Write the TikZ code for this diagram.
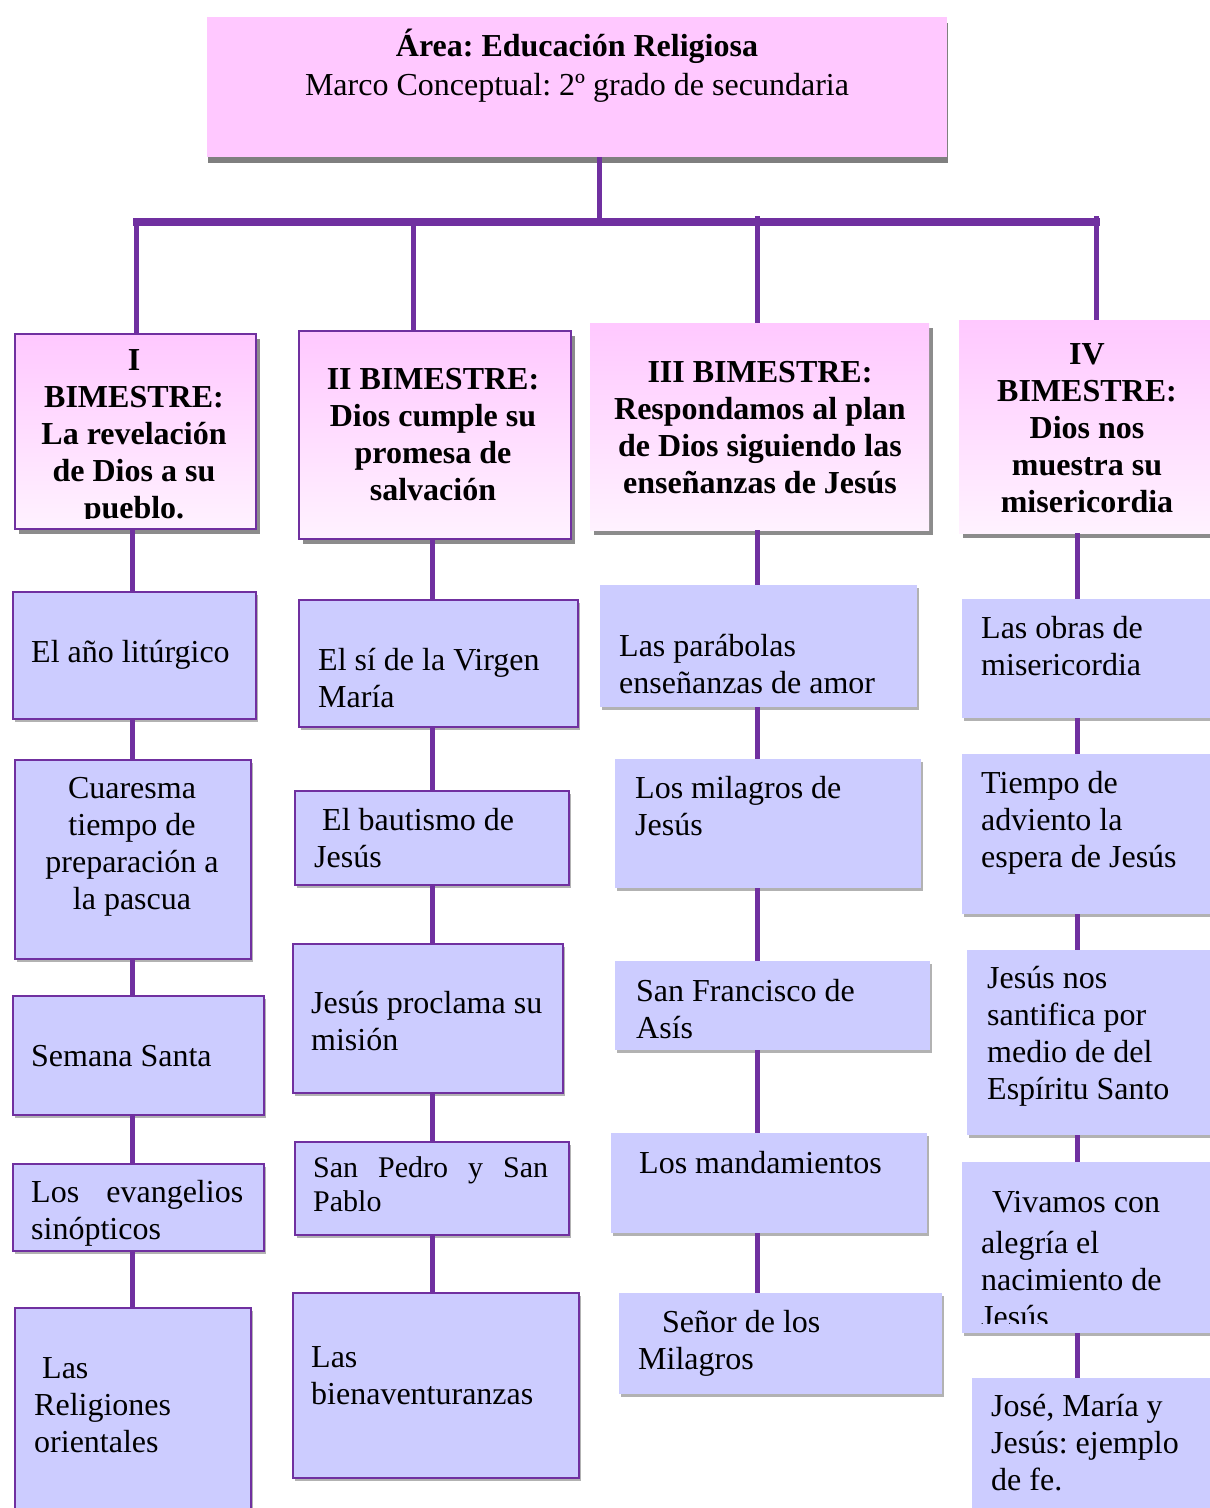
\documentclass[tikz,border=0pt]{standalone}
\usepackage{fontspec}
\setmainfont{Liberation Serif}
\usetikzlibrary{shadows}
\frenchspacing
\definecolor{lav}{HTML}{CCCCFF}
\definecolor{pinkA}{HTML}{FFC8FF}
\definecolor{pinkB}{HTML}{FFF2FF}
\definecolor{purp}{HTML}{7030A0}
\tikzset{
  basebox/.style={rectangle, inner sep=0pt, anchor=north west},
  lshadow/.style={drop shadow={shadow xshift=2pt, shadow yshift=-3pt, opacity=0.3, fill=black}},
  lbox/.style={basebox, fill=lav, draw=purp, line width=1.5pt, lshadow},
  nbox/.style={basebox, fill=lav, lshadow},
  hbox/.style={basebox, top color=pinkA, bottom color=pinkB, drop shadow={shadow xshift=4pt, shadow yshift=-5pt, opacity=0.45, fill=black}},
  hbord/.style={hbox, draw=purp, line width=1.5pt},
  topbox/.style={basebox, fill=pinkA, drop shadow={shadow xshift=1pt, shadow yshift=-6pt, opacity=0.5, fill=black}},
  txt/.style={inner sep=0pt, font=\fontsize{32}{37}\selectfont, align=left, anchor=north west},
  htxt/.style={inner sep=0pt, font=\bfseries\fontsize{32}{37}\selectfont, align=center, anchor=north},
  conn/.style={draw=purp, line width=5pt},
  barline/.style={draw=purp, line width=8pt},
}
\begin{document}
\begin{tikzpicture}[x=1pt, y=-1pt]
\useasboundingbox (0,0) rectangle (1210,1508);
\fill[white] (0,0) rectangle (1210,1508);

% top box
\node[topbox, minimum width=740pt, minimum height=140pt] (T) at (207,17) {};
\node[inner sep=0pt, font=\fontsize{32}{37}\selectfont, align=center, anchor=north] (Tt) at (577,29)
  {\strut\textbf{Área: Educación Religiosa}\\[2pt]Marco Conceptual: 2º grado de secundaria};

% headers
\node[hbord, minimum width=241pt, minimum height=195pt] (H1) at (14,333) {};
\node[hbord, minimum width=272pt, minimum height=208pt] (H2) at (298,330) {};
\node[hbox, minimum width=339pt, minimum height=207pt] (H3) at (590,323) {};
\node[hbox, minimum width=256pt, minimum height=213pt] (H4) at (959,320) {};

\begin{scope}
\clip (14,333) rectangle (255,518);
\node[htxt] (H1t) at (134,344) {\strut I\\BIMESTRE:\\La revelación\\de Dios a su\\pueblo.};
\end{scope}
\node[htxt] (H2t) at (433,363) {\strut II BIMESTRE:\\Dios cumple su\\promesa de\\salvación};
\node[htxt] (H3t) at (760,356) {\strut III BIMESTRE:\\Respondamos al plan\\de Dios siguiendo las\\enseñanzas de Jesús};
\node[htxt] (H4t) at (1087,338) {\strut IV\\BIMESTRE:\\Dios nos\\muestra su\\misericordia};

% column 1
\node[lbox, minimum width=243pt, minimum height=127pt] (c1a) at (12,591) {};
\node[lbox, minimum width=236pt, minimum height=199pt] (c1b) at (14,759) {};
\node[lbox, minimum width=251pt, minimum height=119pt] (c1c) at (12,995) {};
\node[lbox, minimum width=251pt, minimum height=87pt] (c1d) at (12,1163) {};
\node[lbox, minimum width=236pt, minimum height=215pt] (c1e) at (14,1307) {};
\node[txt] (c1at) at (31,636) {\strut El año litúrgico};
\node[txt, align=center, anchor=north] (c1bt) at (132,772) {\strut Cuaresma\\tiempo de\\preparación a\\la pascua};
\node[txt] (c1ct) at (31,1040) {\strut Semana Santa};
\node[txt] (c1dt) at (31,1176) {\strut\makebox[212pt][s]{Los evangelios}\\sinópticos};
\node[txt] (c1et) at (34,1352) {\strut\hspace*{8pt}Las\\Religiones\\orientales};

% column 2
\node[lbox, minimum width=279pt, minimum height=127pt] (c2a) at (298,599) {};
\node[lbox, minimum width=274pt, minimum height=94pt] (c2b) at (294,790) {};
\node[lbox, minimum width=270pt, minimum height=149pt] (c2c) at (292,943) {};
\node[lbox, minimum width=274pt, minimum height=93pt] (c2d) at (294,1141) {};
\node[lbox, minimum width=286pt, minimum height=185pt] (c2e) at (292,1292) {};
\node[txt] (c2at) at (318,644) {\strut El sí de la Virgen\\María};
\node[txt] (c2bt) at (314,804) {\strut\hspace*{8pt}El bautismo de\\Jesús};
\node[txt] (c2ct) at (311,987) {\strut Jesús proclama su\\misión};
\node[txt, font=\fontsize{30}{34.5}\selectfont] (c2dt) at (313,1153) {\strut\makebox[235pt][s]{San Pedro y San}\\Pablo};
\node[txt] (c2et) at (311,1341) {\strut Las\\bienaventuranzas};

% column 3
\node[nbox, minimum width=317pt, minimum height=122pt] (c3a) at (600,585) {};
\node[nbox, minimum width=306pt, minimum height=129pt] (c3b) at (615,759) {};
\node[nbox, minimum width=315pt, minimum height=89pt] (c3c) at (615,961) {};
\node[nbox, minimum width=316pt, minimum height=100pt] (c3d) at (611,1133) {};
\node[nbox, minimum width=323pt, minimum height=101pt] (c3e) at (619,1293) {};
\node[txt] (c3at) at (619,630) {\strut Las parábolas\\enseñanzas de amor};
\node[txt] (c3bt) at (635,772) {\strut Los milagros de\\Jesús};
\node[txt] (c3ct) at (636,975) {\strut San Francisco de\\Asís};
\node[txt] (c3dt) at (639,1147) {\strut Los mandamientos};
\node[txt] (c3et) at (638,1306) {\strut\hspace*{24pt}Señor de los\\Milagros};

% column 4
\node[nbox, minimum width=253pt, minimum height=119pt] (c4a) at (962,599) {};
\node[nbox, minimum width=253pt, minimum height=160pt] (c4b) at (962,754) {};
\node[nbox, minimum width=248pt, minimum height=185pt] (c4c) at (967,950) {};
\node[nbox, minimum width=253pt, minimum height=171pt] (c4d) at (962,1162) {};
\node[nbox, minimum width=243pt, minimum height=140pt] (c4e) at (972,1378) {};
\node[txt] (c4at) at (981,612) {\strut Las obras de\\misericordia};
\node[txt] (c4bt) at (981,767) {\strut Tiempo de\\adviento la\\espera de Jesús};
\node[txt] (c4ct) at (987,962) {\strut Jesús nos\\santifica por\\medio de del\\Espíritu Santo};
\begin{scope}
\clip (962,1162) rectangle (1215,1323);
\node[txt] (c4dt) at (981,1186) {\strut\hspace*{11pt}Vivamos con\\[4pt]alegría el\\nacimiento de\\Jesús};
\end{scope}
\node[txt] (c4et) at (991,1390) {\strut José, María y\\Jesús: ejemplo\\de fe.};

% connectors
\coordinate (stem) at (599,0);
\coordinate (barL) at (133,222);
\coordinate (barR) at (1100,222);
\coordinate (t1) at (136,0);
\coordinate (t2) at (413,0);
\coordinate (t3) at (757,0);
\coordinate (t4) at (1096,0);
\coordinate (b1) at (132,0);
\coordinate (b2) at (432,0);
\coordinate (b3) at (757,0);
\coordinate (b4) at (1077,0);

\draw[conn] (stem |- T.south) -- (stem |- barL);
\draw[barline] (barL) -- (barR);
\draw[conn] (t1 |- barL) -- (t1 |- H1.north);
\draw[conn] (t2 |- barL) -- (t2 |- H2.north);
\draw[conn] ([yshift=6pt]t3 |- barL) -- (t3 |- H3.north);
\draw[conn] ([yshift=6pt]t4 |- barL) -- (t4 |- H4.north);

\draw[conn] (b1 |- H1.south) -- (b1 |- c1a.north);
\draw[conn] (b1 |- c1a.south) -- (b1 |- c1b.north);
\draw[conn] (b1 |- c1b.south) -- (b1 |- c1c.north);
\draw[conn] (b1 |- c1c.south) -- (b1 |- c1d.north);
\draw[conn] (b1 |- c1d.south) -- (b1 |- c1e.north);

\draw[conn] (b2 |- H2.south) -- (b2 |- c2a.north);
\draw[conn] (b2 |- c2a.south) -- (b2 |- c2b.north);
\draw[conn] (b2 |- c2b.south) -- (b2 |- c2c.north);
\draw[conn] (b2 |- c2c.south) -- (b2 |- c2d.north);
\draw[conn] (b2 |- c2d.south) -- (b2 |- c2e.north);

\draw[conn] (b3 |- H3.south) -- (b3 |- c3a.north);
\draw[conn] (b3 |- c3a.south) -- (b3 |- c3b.north);
\draw[conn] (b3 |- c3b.south) -- (b3 |- c3c.north);
\draw[conn] (b3 |- c3c.south) -- (b3 |- c3d.north);
\draw[conn] (b3 |- c3d.south) -- (b3 |- c3e.north);

\draw[conn] (b4 |- H4.south) -- (b4 |- c4a.north);
\draw[conn] (b4 |- c4a.south) -- (b4 |- c4b.north);
\draw[conn] (b4 |- c4b.south) -- (b4 |- c4c.north);
\draw[conn] (b4 |- c4c.south) -- (b4 |- c4d.north);
\draw[conn] (b4 |- c4d.south) -- (b4 |- c4e.north);
\end{tikzpicture}
\end{document}
